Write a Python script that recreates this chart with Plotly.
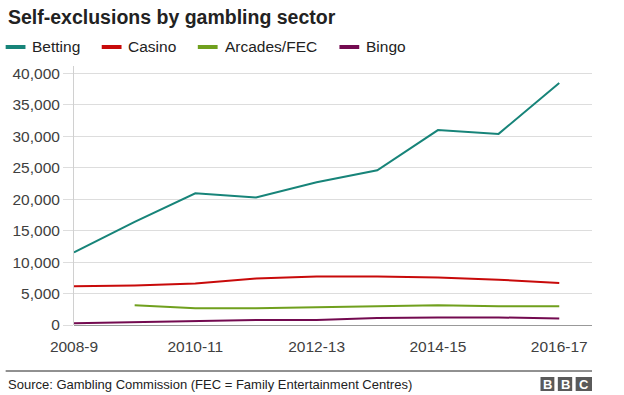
import plotly.graph_objects as go

years = ["2008-9", "2009-10", "2010-11", "2011-12", "2012-13", "2013-14", "2014-15", "2015-16", "2016-17"]
betting = [11550, 16400, 20950, 20300, 22700, 24600, 31000, 30400, 38500]
casino = [6150, 6300, 6600, 7400, 7700, 7700, 7550, 7200, 6700]
arcades = [None, 3150, 2680, 2680, 2840, 3000, 3150, 3000, 3000]
bingo = [270, 450, 600, 800, 800, 1100, 1200, 1200, 1050]

series_names = ["Betting", "Casino", "Arcades/FEC", "Bingo"]
series_values = [betting, casino, arcades, bingo]
colors = ["#178479", "#c80a0a", "#70a01e", "#730a50"]
ytick_vals = [0, 5000, 10000, 15000, 20000, 25000, 30000, 35000, 40000]
xtick_labels = years[::2]

FONT = "Liberation Sans, Arial, sans-serif"
W, H = 624, 395
L, R, T, B = 69, 32, 66, 70
PW, PH = W - L - R, H - T - B


def px(x):
    return (x - L) / PW


def py(y):
    return (H - B - y) / PH


fig = go.Figure()
for name, vals, col in zip(series_names, series_values, colors):
    fig.add_trace(go.Scatter(x=years, y=vals, mode="lines", name=name,
                             line=dict(color=col, width=2), showlegend=False,
                             connectgaps=False))

shapes = []
annotations = []

# Title
annotations.append(dict(x=px(0), y=py(17), xref="paper", yref="paper", xanchor="left",
                        yanchor="middle", showarrow=False,
                        text="<b>Self-exclusions by gambling sector</b>",
                        font=dict(family=FONT, size=19.5, color="#222222")))

# Custom legend
leg_x = [0, 97, 194, 337]
leg_y = 47
for lx, name, col in zip(leg_x, series_names, colors):
    shapes.append(dict(type="line", xref="paper", yref="paper",
                       x0=px(lx), x1=px(lx + 20), y0=py(leg_y), y1=py(leg_y),
                       line=dict(color=col, width=4)))
    annotations.append(dict(x=px(lx + 25), y=py(leg_y), xref="paper", yref="paper",
                            xanchor="left", yanchor="middle", showarrow=False,
                            text=name, font=dict(family=FONT, size=15.5, color="#222222")))

# Footer line
shapes.append(dict(type="line", xref="paper", yref="paper", x0=px(0), x1=px(592),
                   y0=py(371), y1=py(371), line=dict(color="#222222", width=1)))
annotations.append(dict(x=px(0), y=py(384), xref="paper", yref="paper", xanchor="left",
                        yanchor="middle", showarrow=False,
                        text="Source: Gambling Commission (FEC = Family Entertainment Centres)",
                        font=dict(family=FONT, size=13, color="#222222")))

# BBC logo blocks
for bx0, bx1, letter in [(540, 554, "B"), (557.5, 572, "B"), (575.5, 592, "C")]:
    shapes.append(dict(type="rect", xref="paper", yref="paper", x0=px(bx0), x1=px(bx1),
                       y0=py(391), y1=py(377), fillcolor="#5a5a5a", line=dict(width=0)))
    annotations.append(dict(x=px((bx0 + bx1) / 2), y=py(384.3), xref="paper", yref="paper",
                            xanchor="center", yanchor="middle", showarrow=False,
                            text="<b>%s</b>" % letter,
                            font=dict(family=FONT, size=13, color="#ffffff")))

fig.update_layout(
    width=W, height=H,
    margin=dict(l=L, r=R, t=T, b=B, pad=0),
    paper_bgcolor="white", plot_bgcolor="white",
    shapes=shapes, annotations=annotations,
    showlegend=False,
    xaxis=dict(type="category", range=[0, 8.54], tickmode="array",
               tickvals=xtick_labels, ticktext=xtick_labels,
               showgrid=False, zeroline=False, showline=False,
               ticks="outside", ticklen=7, tickcolor="rgba(0,0,0,0)",
               tickfont=dict(family=FONT, size=15.5, color="#404040"), fixedrange=True),
    yaxis=dict(range=[0, 41200], tickmode="array", tickvals=ytick_vals,
               ticktext=["{:,}".format(v) for v in ytick_vals],
               showgrid=True, gridcolor="#dddddd", gridwidth=1,
               zeroline=True, zerolinecolor="#999999", zerolinewidth=1,
               showline=True, linecolor="#d0d0d0", linewidth=1,
               ticks="outside", ticklen=10, tickcolor="#dddddd",
               tickfont=dict(family=FONT, size=15.5, color="#404040"), fixedrange=True),
)

fig.write_html("out.html", config={"displayModeBar": False},
               post_script="document.body.style.margin='0';document.body.style.padding='0';")
